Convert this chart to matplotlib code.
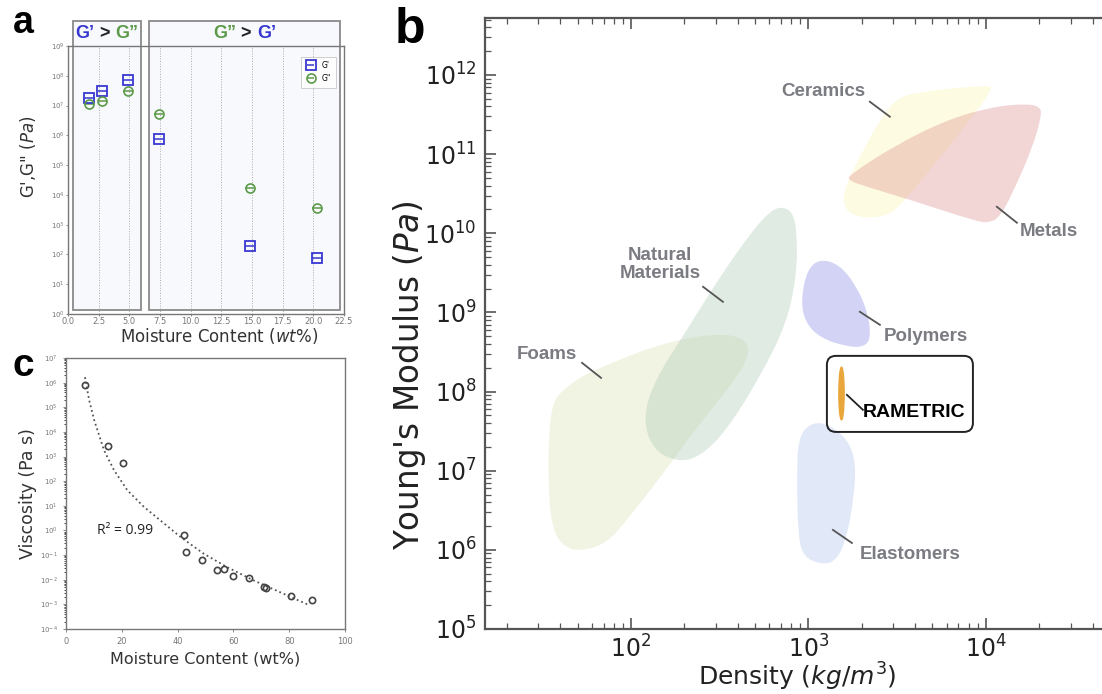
import matplotlib.pyplot as plt
import numpy as np
from matplotlib.path import Path
from matplotlib.patches import PathPatch, Rectangle, FancyBboxPatch
from matplotlib.offsetbox import TextArea, HPacker, AnnotationBbox
from matplotlib.ticker import LogLocator, NullLocator, NullFormatter
from matplotlib.transforms import Affine2D, IdentityTransform

# ---------------- panel a : moduli vs moisture ----------------
mc_a = [1.7, 2.8, 4.9, 7.4, 14.8, 20.3]
g_storage = [1.8e7, 3.0e7, 7.0e7, 7.8e5, 1.85e2, 75]
g_loss = [1.15e7, 1.4e7, 3.2e7, 5.1e6, 1.66e4, 3.5e3]

# ---------------- panel c : viscosity vs moisture ----------------
mc_c = [6.8, 15.2, 20.5, 42.4, 43.1, 48.7, 54.3, 56.6, 60.0, 65.7, 71.1, 71.6, 80.6, 88.3]
visc = [8e5, 2.6e3, 5.5e2, 0.63, 0.13, 0.062, 0.026, 0.027, 0.014, 0.012, 0.005, 0.0045, 0.0022, 0.0015]
fit_mc = [6.8, 8.3, 10.1, 13.6, 17.2, 22.0, 27.9, 33.8, 41.0, 49.3, 57.6, 67.1, 76.6, 87.3]
fit_logvisc = [6.22, 5.29, 4.48, 3.26, 2.45, 1.63, 0.96, 0.41, -0.26, -0.94, -1.48, -2.02, -2.50, -3.04]

# ---------------- panel b : Ashby map outlines (log10 density, log10 modulus) ----------------
ceramics_lr = [3.499, 3.628, 4.023, 4.034, 3.927, 3.701, 3.532, 3.442, 3.273, 3.194, 3.206, 3.290, 3.403]
ceramics_le = [11.713, 11.789, 11.877, 11.814, 11.473, 10.841, 10.386, 10.209, 10.196, 10.335, 10.588, 10.967, 11.435]
metals_lr = [3.234, 3.476, 3.780, 4.039, 4.231, 4.304, 4.315, 4.265, 4.152, 4.079, 4.023, 3.949, 3.572, 3.290, 3.223]
metals_le = [10.740, 11.094, 11.435, 11.599, 11.638, 11.599, 11.498, 11.094, 10.512, 10.209, 10.133, 10.147, 10.425, 10.613, 10.676]
natural_lr = [2.856, 2.913, 2.935, 2.935, 2.879, 2.727, 2.541, 2.389, 2.259, 2.124, 2.068, 2.124, 2.315, 2.501, 2.687, 2.794]
natural_le = [10.335, 10.259, 10.006, 9.501, 8.869, 8.186, 7.516, 7.174, 7.111, 7.263, 7.642, 8.110, 8.780, 9.450, 10.044, 10.297]
foams_lr = [1.617, 1.561, 1.538, 1.532, 1.555, 1.628, 1.724, 1.865, 1.977, 2.163, 2.389, 2.575, 2.670, 2.642, 2.501, 2.315, 2.107, 1.977, 1.730]
foams_le = [8.021, 7.870, 7.516, 6.846, 6.252, 6.024, 5.986, 6.087, 6.378, 6.909, 7.604, 8.110, 8.464, 8.679, 8.729, 8.679, 8.552, 8.439, 8.211]
polymers_lr = [3.065, 2.992, 2.958, 2.980, 3.065, 3.217, 3.318, 3.352, 3.335, 3.273, 3.177]
polymers_le = [9.678, 9.539, 9.159, 8.881, 8.679, 8.565, 8.565, 8.692, 8.995, 9.324, 9.602]
elast_lr = [3.020, 3.121, 3.223, 3.268, 3.256, 3.217, 3.161, 3.082, 2.969, 2.941, 2.935, 2.941]
elast_le = [7.617, 7.579, 7.389, 7.099, 6.669, 6.163, 5.872, 5.809, 5.910, 6.214, 6.846, 7.427]
rametric_rho = 1525
rametric_E = 9.6e7

# label text positions and leader lines (log10 density, log10 modulus)
labels = ['Ceramics', 'Metals', 'Natural\nMaterials', 'Foams', 'Polymers', 'Elastomers']
label_lr = [3.082, 4.192, 2.163, 1.527, 3.662, 3.572]
label_le = [11.789, 10.019, 9.602, 8.464, 8.692, 5.936]
label_ha = ['center', 'left', 'center', 'center', 'center', 'center']
lead_lr = [(3.346, 3.459), (4.062, 4.175), (2.406, 2.518), (1.724, 1.831), (3.290, 3.403), (3.138, 3.245)]
lead_le = [(11.662, 11.473), (10.335, 10.133), (9.324, 9.134), (8.363, 8.173), (9.008, 8.843), (6.252, 6.087)]

b_xticks = [1e2, 1e3, 1e4]
b_yticks = [1e5, 1e6, 1e7, 1e8, 1e9, 1e10, 1e11, 1e12]

blue = '#3838d0'
green = '#5b9a48'
gray_txt = '#7b7c82'

fig = plt.figure(figsize=(11.02, 6.94), dpi=100)
W, H = 1102, 694


def px_axes(left, top, right, bottom):
    return [left / W, 1 - bottom / H, (right - left) / W, (bottom - top) / H]


# ======================= panel a =======================
ax_a = fig.add_axes(px_axes(68, 46, 344, 314))
ax_a.set_yscale('log')
ax_a.set_xlim(0, 22.5)
ax_a.set_ylim(1, 1e9)
ax_a.set_xticks(np.arange(0, 22.6, 2.5))
ax_a.set_xticklabels(['%.1f' % v for v in np.arange(0, 22.6, 2.5)])
ax_a.yaxis.set_major_locator(LogLocator(base=10, numticks=20))
ax_a.yaxis.set_minor_locator(NullLocator())
ax_a.tick_params(labelsize=6, colors='#777', length=1.5, width=0.6, pad=1)
ax_a.tick_params(axis='y', labelsize=5)
ax_a.grid(axis='x', ls=':', color='#aaa', lw=0.7)
for s in ax_a.spines.values():
    s.set_color('#777')
    s.set_linewidth(1.0)

tr = ax_a.get_xaxis_transform()
for x0, x1 in [(0.37, 5.97), (6.62, 22.17)]:
    ax_a.add_patch(Rectangle((x0, 0.016), x1 - x0, 1.076, transform=tr, clip_on=False,
                             facecolor='#f8f9fd', edgecolor='#8a8a8a', lw=1.3, zorder=0))

e1 = ax_a.errorbar(mc_a, g_storage, xerr=0.38, fmt='s', ms=6.5, mfc='none', mec=blue, ecolor=blue,
                   mew=1.3, elinewidth=1.1, capsize=0, label="G'", zorder=3)
e2 = ax_a.errorbar(mc_a, g_loss, xerr=0.38, fmt='o', ms=6.5, mfc='none', mec=green, ecolor=green,
                   mew=1.2, elinewidth=1.1, capsize=0, label='G"', zorder=3)
leg = ax_a.legend(loc='upper right', fontsize=5.5, frameon=True, fancybox=False, borderpad=0.6,
                  handlelength=1.4, labelspacing=0.5, bbox_to_anchor=(0.985, 0.975))
leg.get_frame().set_edgecolor('#bbb')
leg.get_frame().set_linewidth(0.6)

ax_a.set_xlabel('Moisture Content ($wt\\%$)', fontsize=12, color='#333', va='center')
ax_a.set_ylabel("G',G\" $(Pa)$", fontsize=12, color='#333', labelpad=2)
ax_a.xaxis.set_label_coords(0.547, -(336 - 314) / 268)
ax_a.yaxis.set_label_coords(-0.11, 0.585)


def header(text_parts, xpos):
    areas = [TextArea(t, textprops=dict(color=c, fontsize=13, fontweight='bold',
                                        family=['Liberation Sans', 'DejaVu Sans'])) for t, c in text_parts]
    box = HPacker(children=areas, pad=0, sep=0)
    ab = AnnotationBbox(box, (xpos, 1.047), xycoords=tr, frameon=False, box_alignment=(0.5, 0.5),
                        annotation_clip=False)
    ax_a.add_artist(ab)


header([('G\u2019', blue), (' > ', '#222'), ('G\u201d', green)], 3.17)
header([('G\u201d', green), (' > ', '#222'), ('G\u2019', blue)], 14.4)

# ======================= panel c =======================
ax_c = fig.add_axes(px_axes(66, 358, 345, 629))
ax_c.set_yscale('log')
ax_c.set_xlim(0, 100)
ax_c.set_ylim(1e-4, 1e7)
ax_c.yaxis.set_major_locator(LogLocator(base=10, numticks=20))
ax_c.yaxis.set_minor_locator(LogLocator(base=10, subs=np.arange(2, 10), numticks=100))
ax_c.yaxis.set_minor_formatter(NullFormatter())
ax_c.tick_params(labelsize=6, colors='#777', length=2.5, width=0.6)
ax_c.tick_params(axis='y', which='minor', length=1.5, width=0.5)
ax_c.tick_params(axis='y', labelsize=5)
for s in ax_c.spines.values():
    s.set_color('#777')
    s.set_linewidth(1.0)
ax_c.plot(fit_mc, 10 ** np.array(fit_logvisc), ls=':', color='#555', lw=1.3)
ax_c.plot(mc_c, visc, 'o', ms=4.5, mfc='none', mec='#444', mew=1.2)
ax_c.text(11, 1.0, 'R\u00b2 = 0.99', fontsize=10, color='#222', va='center', family='Open Sans')
ax_c.set_xlabel('Moisture Content (wt%)', fontsize=11.5, color='#333', labelpad=4)
ax_c.set_ylabel('Viscosity (Pa s)', fontsize=12.5, color='#333', labelpad=2)

# ======================= panel b =======================
b_left, b_right = 485, 1252
ax_b = fig.add_axes(px_axes(b_left, 18, b_right, 629))
ax_b.set_xscale('log')
ax_b.set_yscale('log')
ax_b.set_xlim(10 ** 1.177, 10 ** 5.5)
ax_b.set_ylim(1e5, 10 ** 12.72)
ax_b.set_xticks(b_xticks)
ax_b.set_yticks(b_yticks)
for a in (ax_b.xaxis, ax_b.yaxis):
    a.set_minor_locator(LogLocator(base=10, subs=np.arange(2, 10), numticks=100))
    a.set_minor_formatter(NullFormatter())
ax_b.tick_params(which='both', direction='in', top=True, right=True, colors='#555', labelcolor='#222')
ax_b.tick_params(which='major', length=8, width=1.2, labelsize=17, pad=6)
ax_b.tick_params(axis='x', which='major', pad=4.5)
ax_b.tick_params(which='minor', length=4, width=0.9)
for s in ax_b.spines.values():
    s.set_color('#555')
    s.set_linewidth(1.6)


def blob(lr, le, color, alpha):
    p = np.column_stack([lr, le])
    mids = (p + np.roll(p, -1, axis=0)) / 2
    verts = [mids[-1]]
    codes = [Path.MOVETO]
    for i in range(len(p)):
        verts += [p[i], mids[i]]
        codes += [Path.CURVE3, Path.CURVE3]
    verts.append(mids[-1])
    codes.append(Path.CLOSEPOLY)
    verts = 10 ** np.array(verts)
    ax_b.add_patch(PathPatch(Path(verts, codes), facecolor=color, alpha=alpha, edgecolor='none', zorder=1))


blob(ceramics_lr, ceramics_le, '#fdfbe2', 1.0)
blob(metals_lr, metals_le, '#d77a7a', 0.3)
blob(foams_lr, foams_le, '#f1f4e2', 1.0)
blob(natural_lr, natural_le, '#b0cbb8', 0.38)
blob(polymers_lr, polymers_le, '#d3d3f6', 1.0)
blob(elast_lr, elast_le, '#e1e8f8', 1.0)

for lab, lx, ly, ha, llx, lly in zip(labels, label_lr, label_le, label_ha, lead_lr, lead_le):
    ax_b.text(10 ** lx, 10 ** ly, lab, ha=ha, va='center', fontsize=13.5, fontweight='bold',
              color=gray_txt, family='Liberation Sans', linespacing=1.05, zorder=3)
    ax_b.plot(10 ** np.array(llx), 10 ** np.array(lly), color='#555', lw=1.3, zorder=3)

# RAMETRIC highlight
ell = Path.unit_circle().transformed(Affine2D().scale(0.1, 1.0))
ax_b.plot([rametric_rho], [rametric_E], marker=ell, ms=38, color='#e9a63a', ls='none', zorder=4)
ax_b.plot(10 ** np.array([3.217, 3.307]), 10 ** np.array([7.958, 7.769]), color='#222', lw=1.3, zorder=4)
ax_b.text(10 ** 3.594, 10 ** 7.731, 'RAMETRIC', ha='center', va='center', fontsize=14, fontweight='bold',
          color='black', family='Liberation Sans', zorder=4)
corners = ax_b.transData.transform([(10 ** 3.104, 10 ** 7.490), (10 ** 3.927, 10 ** 8.451)])
(bx0, by0), (bx1, by1) = corners
fig.add_artist(FancyBboxPatch((bx0, by0), bx1 - bx0, by1 - by0, boxstyle='round,pad=0,rounding_size=9',
                              transform=IdentityTransform(), facecolor='none', edgecolor='#222', lw=1.4,
                              zorder=5))

bw = b_right - b_left
ax_b.set_xlabel('Density ($kg/m^3$)', fontsize=18, color='#222', va='center')
ax_b.set_ylabel("Young's Modulus ($Pa$)", fontsize=23.5, color='#222', va='center')
ax_b.xaxis.set_label_coords((797 - b_left) / bw, -(677 - 629) / 611)
ax_b.yaxis.set_label_coords(-(b_left - 410) / bw, (629 - 375) / 611)

# panel letters
fig.text(13 / W, 1 - 33 / H, 'a', fontsize=27, fontweight='bold', family='Liberation Sans')
fig.text(395 / W, 1 - 43 / H, 'b', fontsize=36, fontweight='bold', family='Liberation Sans')
fig.text(12 / W, 1 - 376 / H, 'c', fontsize=28, fontweight='bold', family='Liberation Sans')

fig.savefig('out.png', dpi=100)
